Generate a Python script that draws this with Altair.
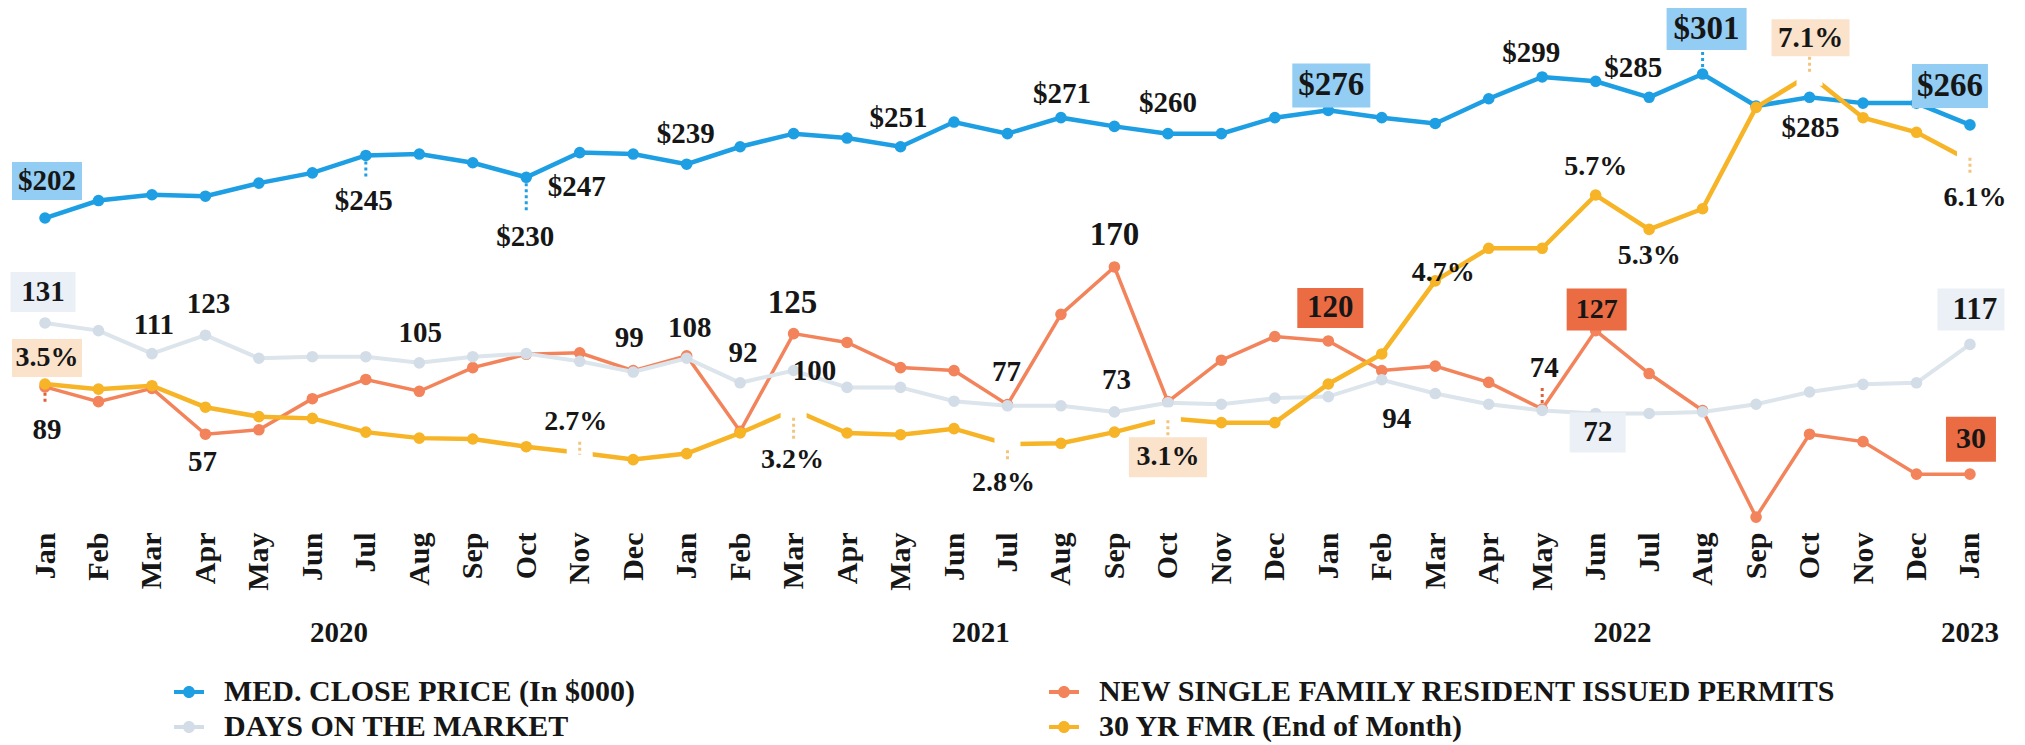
import altair as alt
import pandas as pd

# ---------------- data ----------------
MONTHS = ["Jan", "Feb", "Mar", "Apr", "May", "Jun", "Jul", "Aug", "Sep", "Oct", "Nov", "Dec"]
month_idx = list(range(37))
month_names = [MONTHS[i % 12] for i in month_idx]
YEARS = ["2020", "2021", "2022", "2023"]
year_first = [0, 12, 24, 36]
year_last = [11, 23, 35, 36]

price = [202, 214, 218, 217, 226, 233, 245, 246, 240, 230, 247, 246,
         239, 251, 260, 257, 251, 268, 260, 271, 265, 260, 260, 271,
         276, 271, 267, 284, 299, 296, 285, 301, 279, 285, 281, 281, 266]
days = [131, 126, 111, 123, 108, 109, 109, 105, 109, 111, 106, 99,
        108, 92, 100, 89, 89, 80, 77, 77, 73, 79, 78, 82,
        83, 94, 85, 78, 74, 72, 72, 73, 78, 86, 91, 92, 117]
permits = [89, 79, 88, 57, 60, 81, 94, 86, 102, 111, 112, 100,
           110, 59, 125, 119, 102, 100, 77, 138, 170, 79, 107, 123,
           120, 100, 103, 92, 74, 127, 98, 73, 1, 57, 52, 30, 30]
fmr = [3.5, 3.44, 3.48, 3.23, 3.12, 3.1, 2.94, 2.87, 2.86, 2.77, 2.7, 2.62,
       2.69, 2.93, 3.2, 2.93, 2.91, 2.98, 2.8, 2.81, 2.94, 3.1, 3.05, 3.05,
       3.5, 3.85, 4.7, 5.08, 5.08, 5.7, 5.3, 5.54, 6.72, 7.1, 6.6, 6.43, 6.1]

NAMES = {
    "price": "MED. CLOSE PRICE (In $000)",
    "permits": "NEW SINGLE FAMILY RESIDENT ISSUED PERMITS",
    "days": "DAYS ON THE MARKET",
    "fmr": "30 YR FMR (End of Month)",
}
VALUES = {"price": price, "permits": permits, "days": days, "fmr": fmr}

# ---------------- style ----------------
FONT = "Liberation Serif, Times New Roman, serif"
TXT = "#161616"
COLORS = {"price": "#1E9FE3", "permits": "#F3835A", "days": "#DCE4EC", "fmr": "#F6B426"}
POINT_COLORS = {"price": "#1E9FE3", "permits": "#F3835A", "days": "#D3DDE7", "fmr": "#F6B426"}
LINE_W = {"price": 4.5, "permits": 3.5, "days": 4, "fmr": 4.5}
DOMAINS = {"price": [-7.7, 346.4], "days": [0.6, 336.3], "permits": [-3.0, 345.0], "fmr": [1.882, 7.877]}
LABEL_EXPR = {
    "price": "'$' + format(datum.value, 'd')",
    "days": "format(datum.value, 'd')",
    "permits": "format(datum.value, 'd')",
    "fmr": "format(datum.value, '.1f') + '%'",
}
BOX = {"blue": "#93CDF3", "light": "#EBF0F6", "peach": "#FBE2CB", "orange": "#EB6B43"}

W, H = 1995, 515

# labels: (series, idx, dx, dy, fontsize, box, box_w, box_h, box_dx, box_dy)
labels = [
    ("price", 0, 2, -37, 29, "blue", 70, 38, 2, -37),
    ("price", 6, -2, 46, 29, None, 0, 0, 0, 0),
    ("price", 9, -1, 60, 29, None, 0, 0, 0, 0),
    ("price", 10, -3, 34, 29, None, 0, 0, 0, 0),
    ("price", 12, -1, -30, 29, None, 0, 0, 0, 0),
    ("price", 16, -2, -29, 29, None, 0, 0, 0, 0),
    ("price", 19, 1, -24, 29, None, 0, 0, 0, 0),
    ("price", 21, 0, -31, 29, None, 0, 0, 0, 0),
    ("price", 24, 3, -25, 33, "blue", 78, 44, 3, -25),
    ("price", 28, -11, -24, 29, None, 0, 0, 0, 0),
    ("price", 30, -16, -29, 29, None, 0, 0, 0, 0),
    ("price", 31, 4, -45, 33, "blue", 80, 42, 4, -45),
    ("price", 33, 1, 31, 29, None, 0, 0, 0, 0),
    ("price", 36, -20, -39, 33, "blue", 76, 44, -20, -39),
    ("days", 0, -2, -31, 29, "light", 65, 40, -2, -31),
    ("days", 2, 2, -29, 29, None, 0, 0, 0, 0),
    ("days", 3, 3, -31, 29, None, 0, 0, 0, 0),
    ("days", 7, 1, -30, 29, None, 0, 0, 0, 0),
    ("days", 11, -4, -34, 29, None, 0, 0, 0, 0),
    ("days", 12, 3, -30, 29, None, 0, 0, 0, 0),
    ("days", 13, 3, -30, 29, None, 0, 0, 0, 0),
    ("days", 14, 21, 0, 29, None, 0, 0, 0, 0),
    ("days", 18, -1, -34, 29, None, 0, 0, 0, 0),
    ("days", 20, 2, -32, 29, None, 0, 0, 0, 0),
    ("days", 25, 15, 39, 29, None, 0, 0, 0, 0),
    ("days", 29, 2, 19, 29, "light", 56, 40, 2, 19),
    ("days", 36, 5, -34, 31, "light", 67, 42, 1, -35),
    ("permits", 0, 2, 43, 29, None, 0, 0, 0, 0),
    ("permits", 3, -3, 28, 29, None, 0, 0, 0, 0),
    ("permits", 14, -1, -31, 33, None, 0, 0, 0, 0),
    ("permits", 20, 0, -32, 33, None, 0, 0, 0, 0),
    ("permits", 24, 2, -33, 31, "orange", 66, 40, 2, -33),
    ("permits", 28, 2, -41, 29, None, 0, 0, 0, 0),
    ("permits", 29, 1, -21, 28, "orange", 60, 42, 1, -21),
    ("permits", 36, 1, -35, 30, "orange", 50, 45, 1, -35),
    ("fmr", 0, 2, -26, 28, "peach", 70, 38, 2, -26),
    ("fmr", 10, -4, -31, 28, None, 0, 0, 0, 0),
    ("fmr", 14, -1, 50, 28, None, 0, 0, 0, 0),
    ("fmr", 18, -4, 39, 28, None, 0, 0, 0, 0),
    ("fmr", 21, 0, 39, 28, "peach", 78, 40, 0, 39),
    ("fmr", 26, 8, -8, 28, None, 0, 0, 0, 0),
    ("fmr", 29, 0, -28, 28, None, 0, 0, 0, 0),
    ("fmr", 30, 0, 27, 28, None, 0, 0, 0, 0),
    ("fmr", 33, 1, -37, 29, "peach", 78, 37, 1, -37),
    ("fmr", 36, 5, 37, 28, None, 0, 0, 0, 0),
]

# leader lines: (series, idx, y offset start, y offset end, colour)
leaders = [
    ("price", 6, 6, 24, "#1E9FE3"),
    ("price", 9, 6, 35, "#1E9FE3"),
    ("price", 31, -22, -5, "#1E9FE3"),
    ("permits", 0, 6, 18, "#E0603A"),
    ("permits", 28, -21, -3, "#E0603A"),
    ("fmr", 10, -11, 2, "#F3C47E"),
    ("fmr", 14, 8, 30, "#F3C47E"),
    ("fmr", 18, 6, 18, "#F3C47E"),
    ("fmr", 21, 2, 19, "#F3C47E"),
    ("fmr", 33, -18, 0, "#F3C47E"),
    ("fmr", 36, -3, 13, "#F3C47E"),
]
fmr_gaps = [10, 14, 18, 21, 33, 36]

# ---------------- frames ----------------
frames = {
    k: pd.DataFrame({"idx": month_idx, "month": month_names, "value": v, "series": NAMES[k]})
    for k, v in VALUES.items()
}
year_df = pd.DataFrame({"year": YEARS,
                        "idx": [(a + b) / 2 for a, b in zip(year_first, year_last)]})

x_axis = alt.Axis(values=month_idx,
                  labelExpr="%s[datum.value %% 12]" % str(MONTHS).replace(" ", ""),
                  labelAngle=-90, labelFont=FONT, labelFontSize=30, labelFontWeight="bold",
                  labelColor=TXT, labelPadding=9, ticks=False, domain=False, grid=False,
                  labelOverlap=False, labelFlush=False, labelBound=False, title=None)
x_scale = alt.Scale(domain=[-0.692, 36.618], nice=False, zero=False)


def X():
    return alt.X("idx:Q", scale=x_scale, axis=x_axis)


def Y(k):
    return alt.Y("value:Q", scale=alt.Scale(domain=DOMAINS[k], nice=False, zero=False), axis=None)


legend_symbol = ("M-1,-0.13H1V0.13H-1Z "
                 "M0.4,0A0.4,0.4,0,1,1,-0.4,0A0.4,0.4,0,1,1,0.4,0Z")
# legend fills column by column: column 1 = price, days ; column 2 = permits, fmr
color_enc = alt.Color(
    "series:N",
    scale=alt.Scale(domain=[NAMES["price"], NAMES["days"], NAMES["permits"], NAMES["fmr"]],
                    range=[POINT_COLORS["price"], POINT_COLORS["days"], POINT_COLORS["permits"], POINT_COLORS["fmr"]]),
    legend=alt.Legend(orient="none", legendX=166, legendY=669, columns=2, columnPadding=414,
                      rowPadding=5, symbolType=legend_symbol, symbolSize=900, symbolStrokeWidth=0,
                      symbolOpacity=1, labelFont=FONT, labelFontWeight="bold", labelFontSize=30,
                      labelColor=TXT, labelLimit=1200, labelOffset=20, title=None),
)

layers = []
order = ["permits", "days", "price", "fmr"]
for k in order:
    base = alt.Chart(frames[k])
    layers.append(base.mark_line(color=COLORS[k], strokeWidth=LINE_W[k]).encode(x=X(), y=Y(k)))
    pts = base
    if k == "fmr":
        pts = base.transform_filter(
            "indexof(%s, datum.idx) < 0" % str(fmr_gaps).replace(" ", ""))
    layers.append(pts.mark_point(filled=True, size=135, opacity=1, shape="circle").encode(
        x=X(), y=Y(k), color=color_enc))
    if k == "fmr":
        layers.append(
            base.transform_filter("indexof(%s, datum.idx) >= 0" % str(fmr_gaps).replace(" ", ""))
            .mark_rect(color="white", xOffset=-13, x2Offset=13, yOffset=-11, y2Offset=11)
            .encode(x=X(), x2=alt.X2("idx"), y=Y(k), y2=alt.Y2("value")))

# leaders
for k, i, a, b, c in leaders:
    layers.append(
        alt.Chart(frames[k]).transform_filter(alt.datum.idx == i)
        .mark_rule(color=c, strokeWidth=3, strokeDash=[3, 3], yOffset=a, y2Offset=b)
        .encode(x=X(), y=Y(k), y2=alt.Y2("value")))

# boxes
for k, i, dx, dy, fs, box, bw, bh, bdx, bdy in labels:
    if box:
        layers.append(
            alt.Chart(frames[k]).transform_filter(alt.datum.idx == i)
            .mark_rect(color=BOX[box], opacity=1,
                       xOffset=bdx - bw / 2, x2Offset=bdx + bw / 2,
                       yOffset=bdy - bh / 2, y2Offset=bdy + bh / 2)
            .encode(x=X(), x2=alt.X2("idx"), y=Y(k), y2=alt.Y2("value")))

# label texts
for k, i, dx, dy, fs, box, bw, bh, bdx, bdy in labels:
    layers.append(
        alt.Chart(frames[k]).transform_filter(alt.datum.idx == i)
        .transform_calculate(label=LABEL_EXPR[k])
        .mark_text(dx=dx, dy=dy, fontSize=fs, font=FONT, fontWeight="bold", color=TXT,
                   align="center", baseline="middle")
        .encode(x=X(), y=Y(k), text="label:N"))

# year labels
layers.append(
    alt.Chart(year_df).mark_text(font=FONT, fontSize=29, fontWeight="bold", color=TXT,
                                 align="center", baseline="middle")
    .encode(x=X(), y=alt.value(625), text="year:N"))

chart = (
    alt.layer(*layers)
    .resolve_scale(y="independent")
    .properties(width=W, height=H, padding=0, background="white")
    .configure_view(stroke=None)
)

chart.save("out.html", embed_options={"renderer": "svg", "actions": False})
